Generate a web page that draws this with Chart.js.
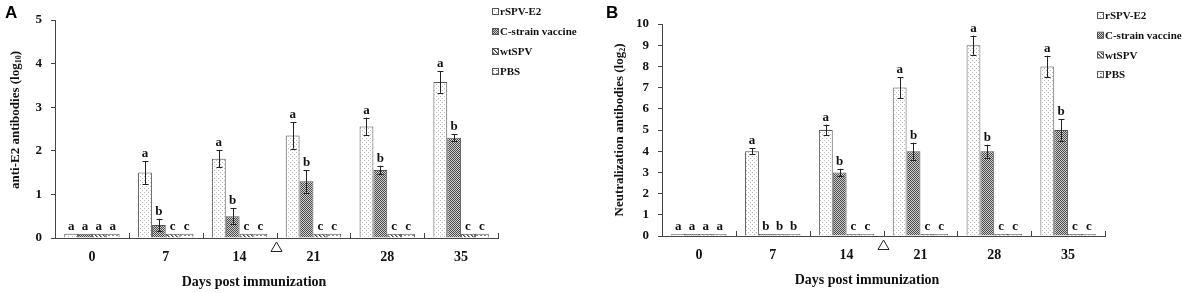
<!DOCTYPE html>
<html><head><meta charset="utf-8">
<script src="https://cdn.jsdelivr.net/npm/chart.js@4/dist/chart.umd.min.js"></script>
<style>
html,body{margin:0;padding:0;background:#fff;}
#wrap{position:relative;width:1192px;height:293px;overflow:hidden;}
.panel{position:absolute;top:0;width:596px;height:293px;}
#pA{left:0}#pB{left:596px}
.lab{position:absolute;font:bold 17px 'Liberation Sans',Arial,sans-serif;line-height:1;}
</style></head>
<body>
<div id="wrap">
<div class="panel" id="pA"><canvas id="cA" width="596" height="293"></canvas></div>
<div class="panel" id="pB"><canvas id="cB" width="596" height="293"></canvas></div>
<div class="lab" style="left:5px;top:4px">A</div>
<div class="lab" style="left:606px;top:4px">B</div>
</div>
<script>
// ---------- data ----------
const days = ['0', '7', '14', '21', '28', '35'];
const seriesNames = ['rSPV-E2', 'C-strain vaccine', 'wtSPV', 'PBS'];

// Panel A: anti-E2 antibodies (log10)
const antiE2_rSPV     = [0.1, 1.5, 1.82, 2.35, 2.56, 3.58];
const antiE2_rSPV_err = [0, 0.26, 0.2, 0.3, 0.2, 0.25];
const antiE2_C        = [0.1, 0.3, 0.5, 1.3, 1.56, 2.3];
const antiE2_C_err    = [0, 0.14, 0.18, 0.26, 0.1, 0.08];
const antiE2_wt       = [0.1, 0.1, 0.1, 0.1, 0.1, 0.1];
const antiE2_wt_err   = [0, 0, 0, 0, 0, 0];
const antiE2_PBS      = [0.1, 0.1, 0.1, 0.1, 0.1, 0.1];
const antiE2_PBS_err  = [0, 0, 0, 0, 0, 0];
const antiE2_let_rSPV = ['a', 'a', 'a', 'a', 'a', 'a'];
const antiE2_let_C    = ['a', 'b', 'b', 'b', 'b', 'b'];
const antiE2_let_wt   = ['a', 'c', 'c', 'c', 'c', 'c'];
const antiE2_let_PBS  = ['a', 'c', 'c', 'c', 'c', 'c'];
const antiE2_ticks    = [0, 1, 2, 3, 4, 5];

// Panel B: neutralization antibodies (log2)
const neut_rSPV     = [0.1, 4, 5, 7, 9, 8];
const neut_rSPV_err = [0, 0.15, 0.25, 0.5, 0.45, 0.5];
const neut_C        = [0.1, 0.1, 3, 4, 4, 5];
const neut_C_err    = [0, 0, 0.17, 0.4, 0.3, 0.5];
const neut_wt       = [0.1, 0.1, 0.1, 0.1, 0.1, 0.1];
const neut_wt_err   = [0, 0, 0, 0, 0, 0];
const neut_PBS      = [0.1, 0.1, 0.1, 0.1, 0.1, 0.1];
const neut_PBS_err  = [0, 0, 0, 0, 0, 0];
const neut_let_rSPV = ['a', 'a', 'a', 'a', 'a', 'a'];
const neut_let_C    = ['a', 'b', 'b', 'b', 'b', 'b'];
const neut_let_wt   = ['a', 'b', 'c', 'c', 'c', 'c'];
const neut_let_PBS  = ['a', 'b', 'c', 'c', 'c', 'c'];
const neut_ticks    = [0, 1, 2, 3, 4, 5, 6, 7, 8, 9, 10];

// booster immunization marker: between day 14 and day 21 (category position)
const boosterPosition = 2.5;

const xTitle = 'Days post immunization';
const yTitleA = ['anti-E2 antibodies (log', '10', ')'];
const yTitleB = ['Neutralization antibodies (log', '2', ')'];

// ---------- styles ----------
const SERIF = "'Liberation Serif','Times New Roman',serif";
const EDGE = '#555';

function makePattern(kind) {
  const c = document.createElement('canvas');
  if (kind === 'dots') {
    c.width = 4; c.height = 4;
    const x = c.getContext('2d');
    x.fillStyle = '#fff'; x.fillRect(0, 0, 4, 4);
    x.fillStyle = '#b8b8b8'; x.fillRect(0, 0, 1, 1); x.fillRect(2, 2, 1, 1);
    return x.createPattern(c, 'repeat');
  }
  if (kind === 'check') {
    c.width = 2; c.height = 2;
    const x = c.getContext('2d');
    x.fillStyle = '#cfcfcf'; x.fillRect(0, 0, 2, 2);
    x.fillStyle = '#4a4a4a'; x.fillRect(0, 0, 1, 1); x.fillRect(1, 1, 1, 1);
    return x.createPattern(c, 'repeat');
  }
  if (kind === 'diag') {
    c.width = 4; c.height = 4;
    const x = c.getContext('2d');
    x.fillStyle = '#fff'; x.fillRect(0, 0, 4, 4);
    x.fillStyle = '#444';
    for (let i = 0; i < 4; i++) x.fillRect(i, i, 1, 1);
    x.fillStyle = '#999';
    for (let i = 0; i < 4; i++) x.fillRect((i + 1) % 4, i, 1, 1);
    return x.createPattern(c, 'repeat');
  }
  c.width = 4; c.height = 3;
  const x = c.getContext('2d');
  x.fillStyle = '#fff'; x.fillRect(0, 0, 4, 3);
  x.fillStyle = '#8a8a8a'; x.fillRect(0, 1, 2, 1);
  return x.createPattern(c, 'repeat');
}
const fills = [makePattern('dots'), makePattern('check'), makePattern('diag'), makePattern('dash')];

function annotPlugin(cfg) {
  return {
    id: 'annot',
    afterDatasetsDraw(chart) {
      const ctx = chart.ctx;
      const xs = chart.scales.x, ys = chart.scales.y;
      const area = chart.chartArea;
      ctx.save();
      // error bars + significance letters
      chart.data.datasets.forEach((ds, i) => {
        const meta = chart.getDatasetMeta(i);
        const errs = cfg.errs[i], lets = cfg.letters[i];
        ds.data.forEach((v, j) => {
          const bar = meta.data[j];
          const e = errs[j];
          let topY = ys.getPixelForValue(v);
          if (e > 0) {
            const y1 = ys.getPixelForValue(v + e), y2 = ys.getPixelForValue(v - e);
            ctx.strokeStyle = '#222'; ctx.lineWidth = 1;
            ctx.beginPath();
            const bx = Math.round(bar.x) + 0.5;
            ctx.moveTo(bx, y1); ctx.lineTo(bx, y2);
            ctx.moveTo(bx - 3, Math.round(y1) + 0.5); ctx.lineTo(bx + 3, Math.round(y1) + 0.5);
            ctx.moveTo(bx - 3, Math.round(y2) + 0.5); ctx.lineTo(bx + 3, Math.round(y2) + 0.5);
            ctx.stroke();
            topY = y1;
          }
          ctx.fillStyle = '#111';
          ctx.font = 'bold 13px ' + SERIF;
          ctx.textAlign = 'center'; ctx.textBaseline = 'alphabetic';
          ctx.fillText(lets[j], bar.x, topY - 4);
        });
      });
      // inward boundary tick marks on the x axis
      ctx.strokeStyle = '#444'; ctx.lineWidth = 1;
      ctx.beginPath();
      for (let k = 1; k <= days.length; k++) {
        const px = Math.round(xs.getPixelForValue(k - 0.5)) + 0.5;
        ctx.moveTo(px, area.bottom); ctx.lineTo(px, area.bottom - 5);
      }
      ctx.stroke();
      // booster triangle
      const tx = xs.getPixelForValue(boosterPosition);
      const ty = area.bottom + 4;
      ctx.beginPath();
      ctx.moveTo(tx, ty); ctx.lineTo(tx - 5.5, ty + 9.5); ctx.lineTo(tx + 5.5, ty + 9.5); ctx.closePath();
      ctx.fillStyle = '#fff'; ctx.fill();
      ctx.strokeStyle = '#222'; ctx.stroke();
      // legend
      chart.data.datasets.forEach((ds, i) => {
        const lx = cfg.legendX, ly = cfg.legendY + i * cfg.legendStep;
        ctx.fillStyle = ds.backgroundColor;
        ctx.fillRect(lx, ly - 3, 6, 6);
        ctx.strokeStyle = EDGE; ctx.lineWidth = 1;
        ctx.strokeRect(lx + 0.5, ly - 3.5, 6, 6);
        ctx.fillStyle = '#111';
        ctx.font = 'bold 11px ' + SERIF;
        ctx.textAlign = 'left'; ctx.textBaseline = 'middle';
        ctx.fillText(ds.label, lx + 8, ly + 0.5);
      });
      // x title
      ctx.fillStyle = '#111';
      ctx.font = 'bold 14px ' + SERIF;
      ctx.textAlign = 'center'; ctx.textBaseline = 'middle';
      ctx.fillText(xTitle, cfg.xTitleX, cfg.xTitleY);
      // y title with subscript
      ctx.translate(cfg.yTitleX, cfg.yTitleY);
      ctx.rotate(-Math.PI / 2);
      const fMain = 'bold ' + cfg.yTitleSize + 'px ' + SERIF;
      const fSub = 'bold ' + Math.round(cfg.yTitleSize * 0.65) + 'px ' + SERIF;
      ctx.font = fMain; const w1 = ctx.measureText(cfg.yTitle[0]).width;
      const w3 = ctx.measureText(cfg.yTitle[2]).width;
      ctx.font = fSub; const w2 = ctx.measureText(cfg.yTitle[1]).width;
      const sx = -(w1 + w2 + w3) / 2;
      ctx.textAlign = 'left'; ctx.textBaseline = 'middle';
      ctx.font = fMain; ctx.fillText(cfg.yTitle[0], sx, 0);
      ctx.font = fSub; ctx.fillText(cfg.yTitle[1], sx + w1, 3);
      ctx.font = fMain; ctx.fillText(cfg.yTitle[2], sx + w1 + w2, 0);
      ctx.restore();
    }
  };
}

function buildChart(id, values, yMax, yTickValues, layout, cfg) {
  const datasets = values.map((arr, i) => ({
    label: seriesNames[i],
    data: arr,
    backgroundColor: fills[i],
    borderColor: EDGE,
    borderWidth: 1,
    categoryPercentage: 0.75,
    barPercentage: 1.0
  }));
  return new Chart(document.getElementById(id), {
    type: 'bar',
    data: { labels: days, datasets },
    plugins: [annotPlugin(cfg)],
    options: {
      responsive: false,
      animation: false,
      devicePixelRatio: 1,
      layout: { padding: { left: 0, right: layout.right, top: layout.top, bottom: 0 } },
      plugins: { legend: { display: false }, tooltip: { enabled: false } },
      scales: {
        x: {
          grid: { display: true, drawOnChartArea: false, drawTicks: false, color: '#444' },
          border: { display: true, color: '#444', width: 1 },
          ticks: { color: '#111', font: { family: SERIF, size: 14, weight: 'bold' }, padding: 11, maxRotation: 0 },
          afterFit: s => { s.height = 293 - layout.bottomY; }
        },
        y: {
          min: 0, max: yMax,
          afterBuildTicks: s => { s.ticks = yTickValues.map(v => ({ value: v })); },
          grid: { display: true, drawOnChartArea: false, drawTicks: true, tickLength: 4, color: '#444' },
          border: { display: true, color: '#444', width: 1 },
          ticks: { color: '#111', font: { family: SERIF, size: 13, weight: 'bold' }, padding: layout.tickPad },
          afterFit: s => { s.width = layout.left; }
        }
      }
    }
  });
}

buildChart('cA', [antiE2_rSPV, antiE2_C, antiE2_wt, antiE2_PBS], 5, antiE2_ticks,
  { left: 55, right: 98, top: 20, bottomY: 238, tickPad: 9 },
  { errs: [antiE2_rSPV_err, antiE2_C_err, antiE2_wt_err, antiE2_PBS_err],
    letters: [antiE2_let_rSPV, antiE2_let_C, antiE2_let_wt, antiE2_let_PBS],
    legendX: 492, legendY: 12, legendStep: 20,
    xTitleX: 254, xTitleY: 282,
    yTitle: yTitleA, yTitleX: 16, yTitleY: 120, yTitleSize: 13 });

buildChart('cB', [neut_rSPV, neut_C, neut_wt, neut_PBS], 10, neut_ticks,
  { left: 66, right: 87, top: 24, bottomY: 236, tickPad: 9 },
  { errs: [neut_rSPV_err, neut_C_err, neut_wt_err, neut_PBS_err],
    letters: [neut_let_rSPV, neut_let_C, neut_let_wt, neut_let_PBS],
    legendX: 501, legendY: 16, legendStep: 19.7,
    xTitleX: 271, xTitleY: 280,
    yTitle: yTitleB, yTitleX: 24, yTitleY: 130, yTitleSize: 13 });
</script>
</body></html>
